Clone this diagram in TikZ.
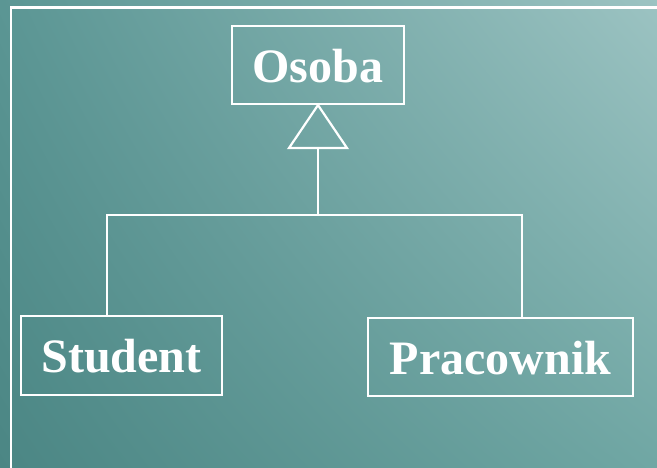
\documentclass[tikz,border=0pt]{standalone}
\usepackage{fontspec}
\setmainfont{Liberation Serif}
\usetikzlibrary{shadings}
\begin{document}
\definecolor{bgTL}{HTML}{5B9694}
\definecolor{bgTR}{HTML}{9CC3C2}
\definecolor{bgBL}{HTML}{4B8684}
\definecolor{bgBR}{HTML}{70A7A4}
\begin{tikzpicture}[x=1pt,y=-1pt,
  classbox/.style={draw=white, line width=2.2pt, text=white,
    font=\bfseries\fontsize{48}{52}\selectfont,
    text height=35pt, text depth=0pt, inner sep=0pt, anchor=center},
  link/.style={draw=white, line width=2.2pt, line join=miter}]
  \useasboundingbox (0,0) rectangle (657,468);
  % background
  \shade[upper left=bgTL, upper right=bgTR, lower left=bgBL, lower right=bgBR]
    (0,0) rectangle (657,468);
  % frame
  \draw[white, line width=2.5pt] (11,470) -- (11,7.5) -- (660,7.5);
  % classes
  \node[classbox, minimum width=172pt, minimum height=78pt] (o) at (318,65) {Osoba};
  \node[classbox, minimum width=201pt, minimum height=79pt] (s) at (121.5,355.5) {Student};
  \node[classbox, minimum width=265pt, minimum height=78pt] (p) at (500.5,357) {Pracownik};
  % generalization
  \coordinate (tri) at (318,148);
  \coordinate (tl) at (289,148);
  \coordinate (tr) at (347,148);
  \coordinate (j) at (318,215);
  \coordinate (sj) at (107,215);
  \coordinate (pj) at (522,215);
  \draw[link] (o.south) -- (tl) -- (tr) -- cycle;
  \draw[link] (tri) -- (j);
  \draw[link] (sj |- s.north) |- (pj) -- (pj |- p.north);
\end{tikzpicture}
\end{document}
